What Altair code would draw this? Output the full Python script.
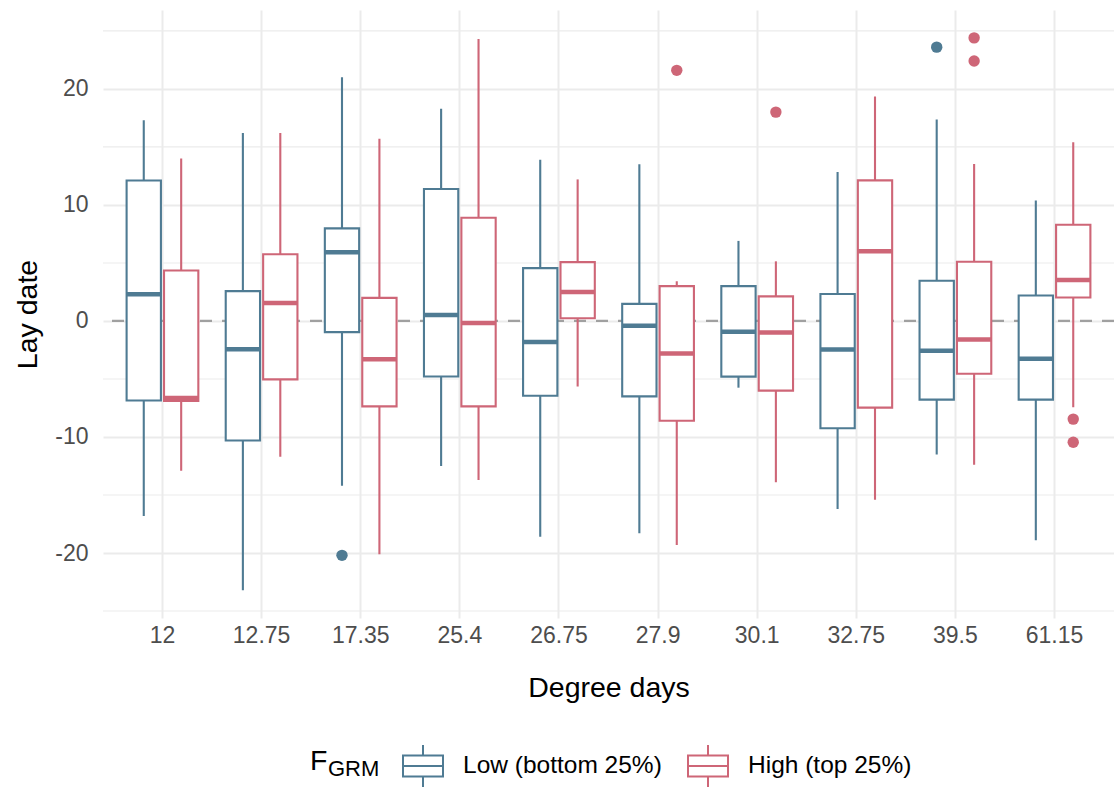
import altair as alt
import pandas as pd

degree_days = ["12", "12.75", "17.35", "25.4", "26.75", "27.9", "30.1", "32.75", "39.5", "61.15"]
groups = ["Low (bottom 25%)", "High (top 25%)"]

low_lower = [-16.8, -23.2, -14.2, -12.5, -18.6, -18.3, -5.75, -16.2, -11.5, -18.9]
low_q1 = [-6.85, -10.3, -0.96, -4.79, -6.44, -6.5, -4.8, -9.25, -6.78, -6.78]
low_median = [2.3, -2.43, 5.92, 0.51, -1.82, -0.41, -0.92, -2.47, -2.57, -3.25]
low_q3 = [12.1, 2.57, 7.98, 11.37, 4.55, 1.47, 3.0, 2.33, 3.46, 2.19]
low_upper = [17.3, 16.2, 21.0, 18.3, 13.9, 13.5, 6.9, 12.84, 17.36, 10.38]

high_lower = [-12.9, -11.7, -20.1, -13.7, -5.65, -19.3, -13.9, -15.4, -12.4, -7.43]
high_q1 = [-6.9, -5.03, -7.36, -7.36, 0.24, -8.6, -6.0, -7.47, -4.55, 2.02]
high_median = [-6.65, 1.54, -3.29, -0.17, 2.5, -2.8, -1.0, 6.0, -1.6, 3.53]
high_q3 = [4.35, 5.75, 1.99, 8.9, 5.07, 3.0, 2.12, 12.12, 5.1, 8.29]
high_upper = [14.0, 16.2, 15.7, 24.3, 12.2, 3.42, 5.14, 19.35, 13.53, 15.4]

out_day = ["17.35", "39.5", "27.9", "30.1", "39.5", "39.5", "61.15", "61.15"]
out_group = ["Low (bottom 25%)", "Low (bottom 25%)", "High (top 25%)", "High (top 25%)",
             "High (top 25%)", "High (top 25%)", "High (top 25%)", "High (top 25%)"]
out_value = [-20.2, 23.6, 21.6, 18.0, 24.4, 22.4, -8.46, -10.45]

y_ticks = [-20, -10, 0, 10, 20]
minor_grid = [-25, -15, -5, 5, 15, 25]

colors = ["#4F7B93", "#CE6677"]
FONT = "Liberation Sans"
LAB = 23
LEG = 24.5
TIT = 28.5

rows = []
for i, d in enumerate(degree_days):
    rows.append(dict(day=d, group=groups[0], lower=low_lower[i], q1=low_q1[i],
                     median=low_median[i], q3=low_q3[i], upper=low_upper[i]))
    rows.append(dict(day=d, group=groups[1], lower=high_lower[i], q1=high_q1[i],
                     median=high_median[i], q3=high_q3[i], upper=high_upper[i]))
box_df = pd.DataFrame(rows)
out_df = pd.DataFrame(dict(day=out_day, group=out_group, value=out_value))
minor_df = pd.DataFrame(dict(v=minor_grid))
zero_df = pd.DataFrame(dict(v=[0]))

yscale = alt.Scale(domain=[-25.6, 26.8], nice=False, zero=False)
xscale = alt.Scale(domain=degree_days, paddingInner=0, paddingOuter=0.1)
offscale = alt.Scale(domain=groups, paddingInner=0.083, paddingOuter=0.366)
cscale = alt.Scale(domain=groups, range=colors)

group_color = alt.condition(f"datum.group == '{groups[0]}'", alt.value(colors[0]), alt.value(colors[1]))

X = alt.X("day:N", scale=xscale, sort=degree_days,
          axis=alt.Axis(title="Degree days", labelAngle=0, bandPosition=0.5,
                        labelPadding=6, titlePadding=26))
XO = alt.XOffset("group:N", scale=offscale, sort=groups)

base = alt.Chart(box_df)

minor = alt.Chart(minor_df).mark_rule(color="#EBEBEB", strokeWidth=1.1).encode(
    y=alt.Y("v:Q", scale=yscale))

zero = alt.Chart(zero_df).mark_rule(color="#A0A0A0", strokeWidth=2.2, strokeDash=[12, 10]).encode(
    y=alt.Y("v:Q", scale=yscale))

whisk = base.mark_rule(strokeWidth=2.1).encode(
    x=X, xOffset=XO,
    y=alt.Y("lower:Q", scale=yscale,
            axis=alt.Axis(title="Lay date", values=y_ticks, labelPadding=15, titlePadding=12,
                          labelExpr="toString(datum.value)")),
    y2="upper:Q",
    color=group_color)

boxes = base.mark_bar(fill="white", strokeWidth=2.1).encode(
    x=X, xOffset=XO,
    y=alt.Y("q1:Q", scale=yscale), y2="q3:Q",
    stroke=alt.Stroke("group:N", scale=cscale, sort=groups,
                      legend=alt.Legend(
                          title="", orient="none", legendX=299, legendY=735,
                          direction="horizontal",
                          labelFontSize=LEG, labelFont=FONT, labelColor="black",
                          labelLimit=0, labelOffset=19, columnPadding=22,
                          symbolType="M-1,-0.52H1V0.52H-1Z M-1,0H1 M0,-0.52V-1.05 M0,0.52V1.05",
                          symbolSize=1600, symbolStrokeWidth=2, symbolFillColor="white",
                          symbolOpacity=1)))

med = base.mark_tick(size=34, thickness=4.5, opacity=1).encode(
    x=X, xOffset=XO,
    y=alt.Y("median:Q", scale=yscale),
    color=group_color)

outl = alt.Chart(out_df).mark_circle(size=130, opacity=1).encode(
    x=X, xOffset=XO,
    y=alt.Y("value:Q", scale=yscale),
    color=group_color)

title_f = alt.Chart(zero_df).mark_text(text="F", fontSize=TIT, font=FONT, color="black",
                                       align="left", baseline="alphabetic").encode(
    x=alt.value(207), y=alt.value(760))

sub = alt.Chart(zero_df).mark_text(text="GRM", fontSize=22, font=FONT, color="black",
                                   align="left", baseline="alphabetic").encode(
    x=alt.value(225), y=alt.value(766))

chart = alt.layer(minor, zero, whisk, boxes, med, outl, title_f, sub).properties(
    width=1011, height=608,
    autosize=alt.AutoSizeParams(type="none"),
    padding={"left": 103, "top": 10, "right": 0, "bottom": 169},
    background="white",
).configure_view(stroke=None).configure_axis(
    domain=False, ticks=False, grid=True, gridColor="#EBEBEB", gridWidth=2,
    labelFont=FONT, labelFontSize=LAB, labelColor="#4D4D4D",
    titleFont=FONT, titleFontSize=TIT, titleColor="black", titleFontWeight="normal",
)

chart.save("out.html", embed_options={"renderer": "svg", "actions": False})
